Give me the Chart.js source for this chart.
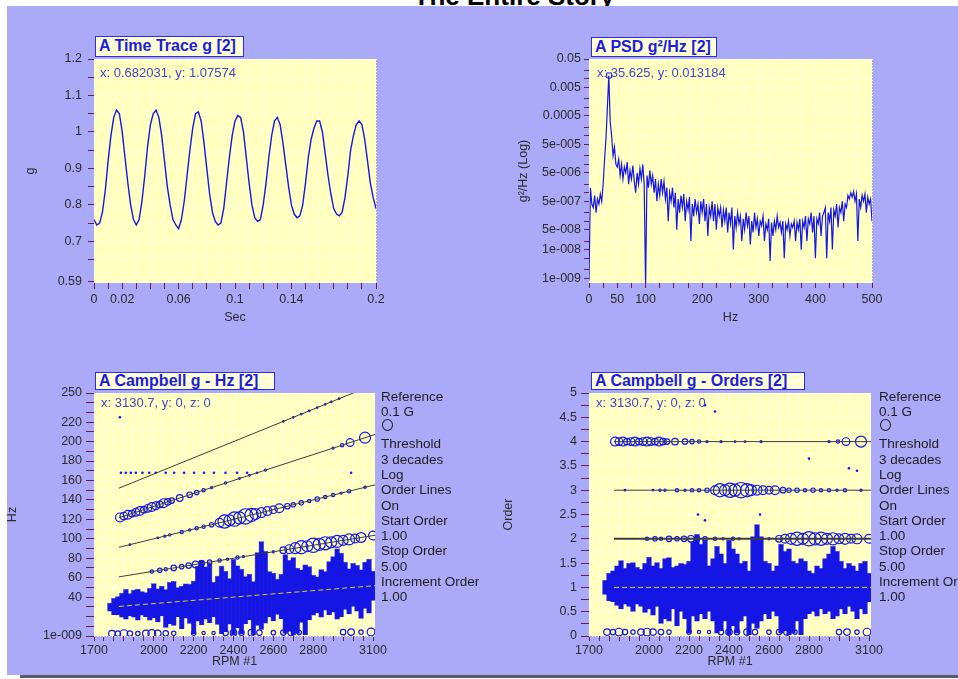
<!DOCTYPE html>
<html>
<head>
<meta charset="utf-8">
<title>The Entire Story</title>
<script src="https://cdn.jsdelivr.net/npm/chart.js@4.4.1/dist/chart.umd.min.js"></script>
<style>
  html, body { margin:0; padding:0; }
  body { width:958px; height:679px; position:relative; overflow:hidden; background:#fff;
         font-family:"Liberation Sans", Arial, sans-serif; }
  #story { position:absolute; left:0; top:-17px; width:1028px; text-align:center; font-size:26px; line-height:26px; font-weight:bold; color:#000; }
  #bg { position:absolute; left:7px; top:6px; width:951px; height:669px; background:#aaaaf9; }
  #shade { position:absolute; left:20px; top:675px; width:938px; height:3px; background:#5c5c66; }
  canvas { position:absolute; }
  .tbox { position:absolute; box-sizing:border-box; border:1.5px solid #2b2be6; background:#ffffd6; color:#1c1cde;
          font-weight:bold; font-size:16px; padding-left:3px; white-space:nowrap; }
  .readout { position:absolute; font-size:13px; color:#4444c8; white-space:nowrap; }
  .keys { position:absolute; font-size:13.5px; line-height:15.3px; color:#1e1e1e; white-space:nowrap; }
  .keys .ring { width:9px; height:10px; border:1px solid #1e1e1e; border-radius:50%; margin:-1px 0 5.8px 1px; }
</style>
</head>
<body>
<div id="story">The Entire Story</div>
<div id="bg"></div>
<div id="shade"></div>

<canvas id="c-trace" width="375" height="300" style="left:20px;top:40px"></canvas>
<canvas id="c-psd" width="390" height="300" style="left:500px;top:40px"></canvas>
<canvas id="c-hz" width="400" height="300" style="left:0px;top:375px"></canvas>
<canvas id="c-ord" width="405" height="300" style="left:490px;top:375px"></canvas>

<div class="tbox" style="left:95px;top:36px;width:149px;height:21px;line-height:18px">A Time Trace g [2]</div>
<div class="tbox" style="left:591px;top:37px;width:126px;height:20px;line-height:17px">A PSD g²/Hz [2]</div>
<div class="tbox" style="left:95px;top:372px;width:180px;height:18px;line-height:15px">A Campbell g - Hz [2]</div>
<div class="tbox" style="left:591px;top:372px;width:214px;height:18px;line-height:15px">A Campbell g - Orders [2]</div>

<div class="readout" style="left:100px;top:65px">x: 0.682031, y: 1.07574</div>
<div class="readout" style="left:597px;top:65px">x: 35.625, y: 0.013184</div>
<div class="readout" style="left:101px;top:395px">x: 3130.7, y: 0, z: 0</div>
<div class="readout" style="left:596px;top:395px">x: 3130.7, y: 0, z: 0</div>

<div class="keys" style="left:381px;top:389px">Reference<br>0.1 G<div class="ring"></div>Threshold<br>3 decades<br>Log<br>Order Lines<br>On<br>Start Order<br>1.00<br>Stop Order<br>5.00<br>Increment Order<br>1.00</div>
<div class="keys" style="left:879px;top:389px">Reference<br>0.1 G<div class="ring"></div>Threshold<br>3 decades<br>Log<br>Order Lines<br>On<br>Start Order<br>1.00<br>Stop Order<br>5.00<br>Increment Order<br>1.00</div>

<script>
// ---- time trace (g), one sample every 2 ms ----
const TRACE_DT = 0.002;
const TRACE_G = [
  0.76, 0.745, 0.75, 0.78, 0.84, 0.92, 0.99, 1.04, 1.06, 1.05,
  1.0, 0.93, 0.86, 0.80, 0.76, 0.745, 0.76, 0.81, 0.88, 0.96,
  1.02, 1.05, 1.06, 1.04, 0.99, 0.92, 0.85, 0.80, 0.76, 0.745,
  0.735, 0.76, 0.81, 0.88, 0.95, 1.01, 1.05, 1.055, 1.03, 0.97,
  0.90, 0.83, 0.78, 0.755, 0.745, 0.75, 0.79, 0.86, 0.93, 0.99,
  1.03, 1.045, 1.04, 1.0, 0.93, 0.86, 0.80, 0.765, 0.755, 0.76,
  0.80, 0.86, 0.93, 0.99, 1.03, 1.04, 1.02, 0.97, 0.91, 0.85,
  0.80, 0.775, 0.765, 0.77, 0.80, 0.86, 0.93, 0.98, 1.01, 1.03,
  1.03, 1.0, 0.94, 0.88, 0.83, 0.79, 0.775, 0.77, 0.78, 0.82,
  0.88, 0.95, 0.99, 1.02, 1.03, 1.02, 0.98, 0.92, 0.86, 0.82,
  0.79
];
const TRACE_X_TICKS = [0,0.01,0.02,0.03,0.04,0.05,0.06,0.07,0.08,0.09,0.1,0.11,0.12,0.13,0.14,0.15,0.16,0.17,0.18,0.19,0.2];
const TRACE_X_LABELS = [0,0.02,0.06,0.1,0.14,0.2];
const TRACE_Y_TICKS = [0.59,0.65,0.7,0.75,0.8,0.85,0.9,0.95,1,1.05,1.1,1.15,1.2];
const TRACE_Y_LABELS = [0.59,0.7,0.8,0.9,1,1.1,1.2];

// ---- PSD (g²/Hz), one bin every 2.5 Hz ----
const PSD_DF = 2.5;
const PSD_VALUES = [
  8e-10,1.5e-6,4e-7,3e-7,8e-7,2e-7,6e-7,4e-7,9e-7,5e-7,
  2e-6,1.5e-5,8e-5,1e-3,1.3e-2,3e-4,1e-4,2e-5,4e-5,1e-5,
  8e-6,1.5e-5,4e-6,1e-5,3e-6,8e-6,5e-6,1.2e-5,2e-6,6e-6,
  3e-6,9e-6,2.5e-6,1e-6,5e-6,2e-6,7e-6,3e-6,1e-5,2e-6,
  5e-10,4e-6,1.5e-6,6e-6,2e-6,4e-6,1e-6,3e-6,5e-7,2e-6,
  8e-7,3e-6,1e-6,2.5e-6,6e-7,1.5e-6,1e-7,1e-6,5e-7,1.5e-6,
  3e-7,1e-6,5e-8,6e-7,2e-7,8e-7,3e-7,9e-7,1e-7,5e-7,
  2.5e-7,7e-7,2e-8,4e-7,1.5e-7,6e-7,2e-7,4e-7,8e-8,5e-7,
  2e-7,6e-7,1e-7,4e-7,3e-8,3e-7,1.5e-7,5e-7,1e-7,4e-7,
  5e-8,3e-7,1.5e-7,3e-7,6e-8,2.5e-7,1e-7,3e-7,4e-8,2e-7,
  8e-8,3e-7,1e-8,1.5e-7,6e-8,2e-7,8e-8,1.5e-7,2e-8,1.2e-7,
  5e-8,2e-7,7e-8,1.5e-7,1.5e-8,1e-7,4e-8,2e-7,6e-8,1.2e-7,
  3e-8,1e-7,7e-8,1.5e-7,2e-8,8e-8,5e-8,1.2e-7,4e-9,9e-8,
  3e-8,1e-7,5e-8,1.5e-7,6e-8,9e-8,4e-8,1e-7,5e-9,8e-8,
  5e-8,1e-7,3e-8,8e-8,6e-8,1e-7,2e-8,9e-8,5e-8,1.2e-7,
  1e-8,1e-7,6e-8,1.5e-7,2e-8,1.2e-7,8e-8,2e-7,4e-8,1.5e-7,
  5e-9,1.2e-7,8e-8,2e-7,3e-8,1.5e-7,2e-7,3e-7,5e-9,2e-7,
  1e-7,3e-7,1e-8,2.5e-7,1.5e-7,4e-7,6e-8,3e-7,2e-7,5e-7,
  1e-7,4e-7,3e-7,8e-7,6e-7,1e-6,7e-7,1.1e-6,5e-7,9e-7,
  2e-8,6e-7,3e-7,8e-7,5e-7,9e-7,2e-7,7e-7,4e-7,6e-7,
  1e-7
];
const PSD_PEAK = { hz: 35.625, value: 0.013184 };
const PSD_X_TICKS = [0,25,50,75,100,125,150,175,200,225,250,275,300,325,350,375,400,425,450,475,500];
const PSD_X_LABELS = [0,50,100,200,300,400,500];
const PSD_Y_TICKS = [1e-9,2e-9,5e-9,1e-8,2e-8,5e-8,1e-7,2e-7,5e-7,1e-6,2e-6,5e-6,1e-5,2e-5,5e-5,1e-4,2e-4,5e-4,1e-3,2e-3,5e-3,1e-2,2e-2,5e-2];
const PSD_Y_LABELS = [1e-9,1e-8,5e-8,5e-7,5e-6,5e-5,5e-4,5e-3,5e-2];
const PSD_Y_TEXT = ['1e-009','1e-008','5e-008','5e-007','5e-006','5e-005','0.0005','0.005','0.05'];

// ---- Campbell: order content, read in orders; the Hz panel shows hz = order * rpm / 60 ----
const ORDERS = [1, 2, 3, 4, 5];
const ORDER_LINE_RPM = [1825, 3110];

// dense 1x content: extent of each vertical streak (orders)
const STREAK_RPM = [
  1780,1800,1820,1840,1860,1880,1900,1920,1940,1960,
  1980,2000,2020,2040,2060,2080,2100,2120,2140,2160,
  2180,2200,2220,2240,2260,2280,2300,2320,2340,2360,
  2380,2400,2420,2440,2460,2480,2500,2520,2540,2560,
  2580,2600,2620,2640,2660,2680,2700,2720,2740,2760,
  2780,2800,2820,2840,2860,2880,2900,2920,2940,2960,
  2980,3000,3020,3040,3060,3080,3100
];
const STREAK_HIGH = [
  1.15,1.30,1.35,1.45,1.56,1.40,1.50,1.52,1.42,1.38,
  1.50,1.63,1.45,1.52,1.40,1.60,1.62,1.42,1.45,1.50,
  1.48,1.55,1.95,2.10,1.90,1.98,1.45,1.60,1.85,1.70,
  1.50,1.98,1.80,1.70,1.50,1.55,1.35,2.05,2.30,2.05,
  1.55,1.50,1.35,1.45,1.90,1.75,1.80,1.55,1.50,1.60,
  1.55,1.35,1.30,1.45,1.40,1.60,1.70,1.85,1.75,1.55,
  1.40,1.50,1.45,1.35,1.50,1.55,1.30
];
const STREAK_LOW = [
  0.85,0.72,0.70,0.62,0.55,0.65,0.60,0.50,0.65,0.60,
  0.48,0.55,0.42,0.60,0.25,0.35,0.30,0.55,0.20,0.50,
  0.35,0.05,0.40,0.30,0.45,0.35,0.50,0.30,0.05,0.10,
  0.30,0.02,0.20,0.05,0.30,0.40,0.02,0.25,0.15,0.30,
  0.45,0.35,0.50,0.40,0.05,0.10,0.02,0.05,0.30,0.02,
  0.35,0.45,0.50,0.40,0.55,0.45,0.50,0.35,0.40,0.55,
  0.45,0.60,0.50,0.35,0.55,0.45,0.70
];

// amplitude circles (g) along the order lines
const ORDER2_RPM = [1990,2030,2060,2100,2140,2175,2210,2240,2280,2330,2370,2420,2450,2540,2600,2650,2680,2710,2740,2770,2800,2830,2860,2890,2920,2950,2980,3010,3040,3100];
const ORDER2_AMP = [0.03,0.04,0.03,0.05,0.04,0.05,0.06,0.05,0.04,0.03,0.02,0.03,0.02,0.03,0.02,0.06,0.08,0.10,0.12,0.10,0.13,0.11,0.12,0.10,0.11,0.09,0.10,0.08,0.09,0.08];
const ORDER3_RPM = [1880,2020,2055,2080,2140,2180,2215,2250,2290,2330,2355,2380,2405,2430,2460,2490,2510,2540,2570,2600,2630,2670,2700,2740,2780,2820,2860,2900,2940,2980,3060];
const ORDER3_AMP = [0.01,0.015,0.02,0.02,0.03,0.02,0.03,0.03,0.04,0.08,0.12,0.10,0.13,0.11,0.14,0.12,0.10,0.09,0.08,0.07,0.08,0.05,0.04,0.04,0.03,0.04,0.03,0.03,0.02,0.03,0.02];
const ORDER4_RPM = [1830,1850,1870,1890,1910,1930,1950,1970,1990,2010,2030,2050,2070,2090,2130,2180,2215,2250,2290,2360,2430,2480,2560,2900,2945,2985,3060];
const ORDER4_AMP = [0.08,0.07,0.08,0.06,0.07,0.08,0.06,0.07,0.08,0.07,0.06,0.08,0.06,0.05,0.06,0.05,0.04,0.03,0.02,0.02,0.015,0.015,0.02,0.02,0.03,0.07,0.10];
const ORDER5_RPM = [2650,2700,2740,2780,2820,2860,2890,2930];
const ORDER5_AMP = [0.01,0.01,0.01,0.01,0.01,0.01,0.01,0.01];
const LOW_ROW_ORDER = 0.08;
const LOW_ROW_RPM = [1790,1820,1850,1880,1920,1960,1990,2020,2060,2100,2200,2250,2300,2360,2400,2440,2490,2530,2600,2650,2690,2730,2950,2990,3040,3090];
const LOW_ROW_AMP = [0.06,0.05,0.07,0.05,0.04,0.06,0.07,0.06,0.05,0.04,0.04,0.03,0.03,0.05,0.06,0.05,0.06,0.05,0.04,0.05,0.06,0.04,0.05,0.06,0.04,0.07];

// isolated hits
const ORD_STRAY_RPM = [2280,2330,2800,3000,3040,2245,2280,2555];
const ORD_STRAY_VAL = [4.75,4.62,3.65,3.45,3.40,2.50,2.38,2.50];
const HZ_STRAY_RPM = [1830,2180,2990];
const HZ_STRAY_VAL = [225,252,168];
const HZ_168_LEVEL = 168;
const HZ_168_RPM = [1835,1860,1885,1910,1943,1977,2010,2060,2102,2152,2202,2252,2302,2360,2418,2468,2518];

const CAMP_X_TICKS = [1700,1750,1800,1850,1900,1950,2000,2050,2100,2150,2200,2250,2300,2350,2400,2450,2500,2550,2600,2650,2700,2750,2800,2850,2900,2950,3000,3050,3100];
const CAMP_X_LABELS = [1700,2000,2200,2400,2600,2800,3100];
const HZ_Y_TICKS = [0,10,20,30,40,50,60,70,80,90,100,110,120,130,140,150,160,170,180,190,200,210,220,230,240,250];
const HZ_Y_LABELS = [0,40,60,80,100,120,140,160,180,200,220,250];
const HZ_Y_TEXT = ['1e-009','40','60','80','100','120','140','160','180','200','220','250'];
const ORD_Y_TICKS = [0,0.25,0.5,0.75,1,1.25,1.5,1.75,2,2.25,2.5,2.75,3,3.25,3.5,3.75,4,4.25,4.5,4.75,5];
const ORD_Y_LABELS = [0,0.5,1,1.5,2,2.5,3,3.5,4,4.5,5];

// ---------------------------------------------------------------
const BLUE = '#1616e4';
const TICK_COL = '#6b1d4f';
const PX_PER_G = 55;   // reference circle: 0.1 G

Chart.defaults.font.family = '"Liberation Sans", Arial, sans-serif';
Chart.defaults.font.size = 12.5;
Chart.defaults.color = '#2b2b2b';

const plotBg = {
    id: 'plotBg',
    beforeDraw(chart) {
        const a = chart.chartArea, ctx = chart.ctx;
        ctx.save();
        ctx.fillStyle = '#ffffbf';
        ctx.fillRect(a.left, a.top, a.right - a.left, a.bottom - a.top);
        ctx.restore();
    }
};

function axisOpts(o) {
    return {
        type: o.type || 'linear',
        min: o.min, max: o.max,
        offset: false,
        afterBuildTicks: s => { s.ticks = o.ticks.map(v => ({ value: v })); },
        afterFit: s => { if (s.isHorizontal()) s.height = o.size; else s.width = o.size; },
        ticks: {
            autoSkip: false, maxRotation: 0, padding: o.pad, color: '#2b2b2b',
            callback: v => {
                const i = o.labels.indexOf(v);
                if (i < 0) return '';
                return o.text ? o.text[i] : String(v);
            }
        },
        grid: { color: '#ffffff', tickColor: TICK_COL, tickLength: o.tickLen, lineWidth: 1, offset: false },
        border: { display: false, dash: [1, 2] },
        title: { display: true, text: o.title, color: '#2b2b2b', padding: o.titlePad }
    };
}

function makeChart(id, datasets, xo, yo, pad) {
    return new Chart(document.getElementById(id), {
        type: 'scatter',
        data: { datasets },
        options: {
            responsive: false, devicePixelRatio: 1, animation: false,
            layout: { padding: { top: pad.top, right: pad.right, left: 0, bottom: 0 } },
            plugins: { legend: { display: false }, tooltip: { enabled: false } },
            scales: { x: axisOpts(xo), y: axisOpts(yo) }
        },
        plugins: [plotBg]
    });
}

// ---- panel 1: time trace ----
makeChart('c-trace', [{
    type: 'line',
    data: TRACE_G.map((g, i) => ({ x: i * TRACE_DT, y: g })),
    borderColor: BLUE, borderWidth: 1.4, pointRadius: 0, tension: 0
}], {
    min: 0, max: 0.2, ticks: TRACE_X_TICKS, labels: TRACE_X_LABELS, size: 57, tickLen: 6, pad: 3,
    title: 'Sec', titlePad: { top: 0, bottom: 15 }
}, {
    min: 0.586, max: 1.2, ticks: TRACE_Y_TICKS, labels: TRACE_Y_LABELS, size: 74, tickLen: 6, pad: 6,
    title: 'g', titlePad: { top: 3, bottom: 0 }
}, { top: 19, right: 19 });

// ---- panel 2: PSD ----
makeChart('c-psd', [{
    type: 'scatter',
    data: [{ x: PSD_PEAK.hz, y: PSD_PEAK.value }],
    pointStyle: 'rect', pointRadius: 3.5, pointBorderColor: BLUE, pointBackgroundColor: 'rgba(0,0,0,0)', pointBorderWidth: 1
}, {
    type: 'line',
    data: PSD_VALUES.map((v, i) => ({ x: i * PSD_DF, y: v })),
    borderColor: BLUE, borderWidth: 1.2, pointRadius: 0, tension: 0
}], {
    min: 0, max: 500, ticks: PSD_X_TICKS, labels: PSD_X_LABELS, size: 57, tickLen: 5, pad: 4,
    title: 'Hz', titlePad: { top: 0, bottom: 15 }
}, {
    type: 'logarithmic', min: 6.7e-10, max: 0.05, ticks: PSD_Y_TICKS, labels: PSD_Y_LABELS, text: PSD_Y_TEXT,
    size: 89, tickLen: 5, pad: 3, title: 'g²/Hz (Log)', titlePad: { top: 16, bottom: 0 }
}, { top: 19, right: 18 });

// ---- panels 3 and 4: Campbell ----
function campbellDatasets(inHz) {
    const val = (ord, rpm) => inHz ? ord * rpm / 60 : ord;
    const ds = [];
    ORDERS.forEach(o => {
        if (!inHz && o === 5) return;
        ds.push({
            type: 'line', order: 0,
            data: ORDER_LINE_RPM.map(r => ({ x: r, y: val(o, r) })),
            borderColor: o === 1 ? '#d9d21a' : '#3c3c44',
            borderWidth: (!inHz && o === 2) ? 2 : 1,
            borderDash: o === 1 ? [5, 3] : [],
            pointRadius: 0
        });
    });
    const rows = [
        [ORDER2_RPM, ORDER2_AMP, 2], [ORDER3_RPM, ORDER3_AMP, 3], [ORDER4_RPM, ORDER4_AMP, 4],
        [LOW_ROW_RPM, LOW_ROW_AMP, LOW_ROW_ORDER]
    ];
    if (inHz) rows.push([ORDER5_RPM, ORDER5_AMP, 5]);
    rows.forEach(([rpm, amp, o]) => {
        ds.push({
            type: 'bubble', order: 1,
            data: rpm.map((r, i) => ({ x: r, y: val(o, r), r: Math.max(0.8, amp[i] * PX_PER_G) })),
            borderColor: BLUE, backgroundColor: 'rgba(0,0,0,0)', borderWidth: 1.2
        });
    });
    const strays = inHz
        ? HZ_STRAY_RPM.map((r, i) => ({ x: r, y: HZ_STRAY_VAL[i] })).concat(HZ_168_RPM.map(r => ({ x: r, y: HZ_168_LEVEL })))
        : ORD_STRAY_RPM.map((r, i) => ({ x: r, y: ORD_STRAY_VAL[i] }));
    ds.push({
        type: 'scatter', order: 1, data: strays,
        pointRadius: 1.3, pointBackgroundColor: BLUE, pointBorderWidth: 0
    });
    ds.push({
        type: 'bar', order: 2,
        data: STREAK_RPM.map((r, i) => ({ x: r, y: [val(STREAK_LOW[i], r), val(STREAK_HIGH[i], r)] })),
        backgroundColor: BLUE, borderColor: BLUE, borderWidth: 0.5, barPercentage: 1.4, categoryPercentage: 1
    });
    return ds;
}

const campX = {
    min: 1700, max: 3110, ticks: CAMP_X_TICKS, labels: CAMP_X_LABELS, size: 39, tickLen: 5, pad: 2,
    title: 'RPM #1', titlePad: { top: 0, bottom: 6 }
};

makeChart('c-hz', campbellDatasets(true), campX, {
    min: 0, max: 250, ticks: HZ_Y_TICKS, labels: HZ_Y_LABELS, text: HZ_Y_TEXT, size: 94, tickLen: 8, pad: 4,
    title: 'Hz', titlePad: { top: 5, bottom: 0 }
}, { top: 18, right: 25 });

makeChart('c-ord', campbellDatasets(false), campX, {
    min: 0, max: 5, ticks: ORD_Y_TICKS, labels: ORD_Y_LABELS, size: 99, tickLen: 8, pad: 4,
    title: 'Order', titlePad: { top: 11, bottom: 0 }
}, { top: 18, right: 24 });
</script>
</body>
</html>
